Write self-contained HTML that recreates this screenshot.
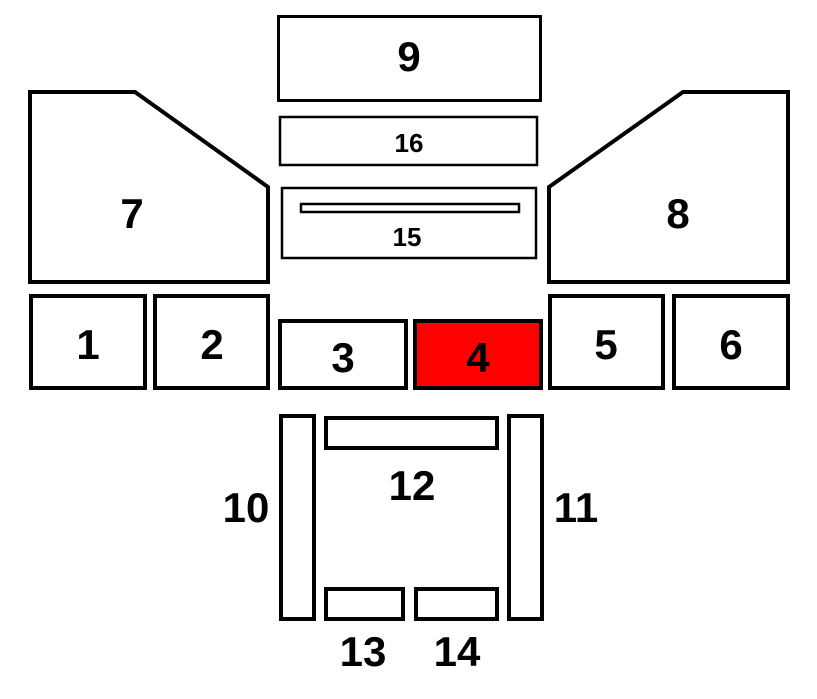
<!DOCTYPE html>
<html><head><meta charset="utf-8"><style>
html,body{margin:0;padding:0;background:#fff;width:817px;height:699px;overflow:hidden}
svg text{font-family:"Liberation Sans",Arial,sans-serif;font-weight:bold;fill:#000;text-anchor:middle}
</style></head><body>
<svg width="817" height="699" viewBox="0 0 817 699" xmlns="http://www.w3.org/2000/svg">
<g fill="#fff" stroke="#000">
<rect x="278.5" y="16.5" width="262" height="84" stroke-width="3"/>
<rect x="280" y="117" width="257" height="48" stroke-width="2.5"/>
<rect x="282" y="188" width="254" height="70" stroke-width="2.5"/>
<rect x="301" y="204" width="218" height="8" stroke-width="2.5"/>
<polygon points="30,92 135,92 268,187 268,282 30,282" stroke-width="4"/>
<polygon points="788,92 683,92 549,187 549,282 788,282" stroke-width="4"/>
<rect x="31" y="296" width="114" height="92" stroke-width="4"/>
<rect x="155" y="296" width="113" height="92" stroke-width="4"/>
<rect x="280" y="321" width="126" height="67" stroke-width="4"/>
<rect x="415" y="321" width="126" height="67" stroke-width="4" fill="#ff0000"/>
<rect x="550" y="296" width="113" height="92" stroke-width="4"/>
<rect x="674" y="296" width="114" height="92" stroke-width="4"/>
<rect x="281" y="416" width="33" height="203" stroke-width="4"/>
<rect x="509" y="416" width="33" height="203" stroke-width="4"/>
<rect x="326" y="418" width="171" height="30" stroke-width="4"/>
<rect x="326" y="589" width="77" height="30" stroke-width="4"/>
<rect x="416" y="589" width="81" height="30" stroke-width="4"/>
</g>
<text x="409" y="71" font-size="42">9</text>
<text x="409" y="152" font-size="26">16</text>
<text x="407" y="246" font-size="26">15</text>
<text x="132" y="228" font-size="42">7</text>
<text x="678" y="228" font-size="42">8</text>
<text x="88" y="359" font-size="42">1</text>
<text x="212" y="359" font-size="42">2</text>
<text x="343" y="372" font-size="42">3</text>
<text x="478" y="372" font-size="42">4</text>
<text x="606" y="359" font-size="42">5</text>
<text x="731" y="359" font-size="42">6</text>
<text x="412" y="500" font-size="42">12</text>
<text x="246" y="522" font-size="42">10</text>
<text x="576" y="522" font-size="42">11</text>
<text x="363" y="666" font-size="42">13</text>
<text x="457" y="666" font-size="42">14</text>
</svg>
</body></html>
